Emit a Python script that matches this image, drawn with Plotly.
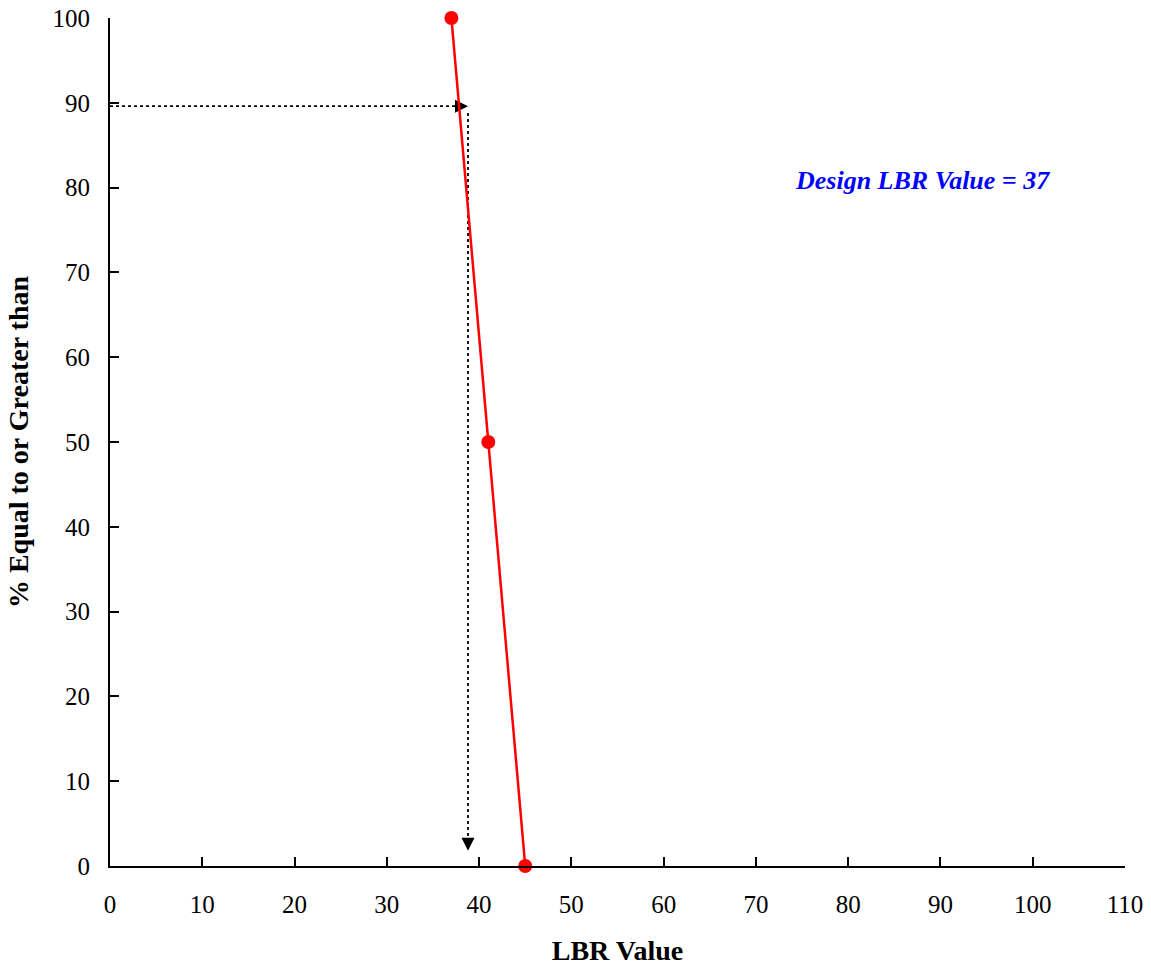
import plotly.graph_objects as go

lbr_values = [37, 41, 45]
pct_equal_or_greater = [100, 50, 0]

design_pct = 89.6
design_read_x = 38.8
arrow_end_y = 1.8

x_ticks = list(range(0, 111, 10))
y_ticks = list(range(0, 101, 10))

annotation_text = "Design LBR Value = 37"

FONT = "Liberation Serif, Times New Roman, serif"

fig = go.Figure()

# dotted guide lines
fig.add_trace(go.Scatter(
    x=[0, design_read_x - 1.2], y=[design_pct, design_pct],
    mode="lines", line=dict(color="black", width=1.8, dash="dot"),
    hoverinfo="skip", showlegend=False))
fig.add_trace(go.Scatter(
    x=[design_read_x, design_read_x], y=[design_pct - 0.8, arrow_end_y + 1.2],
    mode="lines", line=dict(color="black", width=1.8, dash="dot"),
    hoverinfo="skip", showlegend=False))
# arrowheads (arrow symbols have their tip at the point)
fig.add_trace(go.Scatter(
    x=[design_read_x], y=[design_pct],
    mode="markers", marker=dict(symbol="arrow-right", size=13, color="black"),
    hoverinfo="skip", showlegend=False))
fig.add_trace(go.Scatter(
    x=[design_read_x], y=[arrow_end_y],
    mode="markers", marker=dict(symbol="arrow-down", size=13, color="black"),
    hoverinfo="skip", showlegend=False))

# data series
fig.add_trace(go.Scatter(
    x=lbr_values, y=pct_equal_or_greater,
    mode="lines+markers",
    line=dict(color="red", width=2.5),
    marker=dict(color="red", size=14),
    cliponaxis=False, showlegend=False))

fig.add_annotation(
    x=88, y=80.8, xref="x", yref="y",
    text="<b><i>" + annotation_text + "</i></b>",
    showarrow=False, font=dict(family=FONT, size=26, color="blue"))

fig.update_layout(
    width=1151, height=966,
    margin=dict(l=110, r=26, t=18, b=100),
    paper_bgcolor="white", plot_bgcolor="white",
    font=dict(family=FONT, size=24, color="black"),
)
fig.update_xaxes(
    range=[0, 110], tickvals=x_ticks, ticks="inside", ticklen=9, tickwidth=2,
    tickcolor="black", showline=True, linecolor="black", linewidth=2,
    showgrid=False, zeroline=False, automargin=False,
    title=dict(text="<b>LBR Value</b>", font=dict(family=FONT, size=28), standoff=24),
    tickfont=dict(family=FONT, size=25), ticklabelstandoff=15)
fig.update_yaxes(
    range=[0, 100], tickvals=y_ticks, ticks="inside", ticklen=9, tickwidth=2,
    tickcolor="black", showline=True, linecolor="black", linewidth=2,
    showgrid=False, zeroline=False, automargin=False,
    title=dict(text="<b>% Equal to or Greater than</b>", font=dict(family=FONT, size=28), standoff=16),
    tickfont=dict(family=FONT, size=25), ticklabelstandoff=13)

fig.write_html(
    "out.html",
    config={"displayModeBar": False},
    post_script="document.body.style.margin='0';document.body.style.overflow='hidden';",
)
